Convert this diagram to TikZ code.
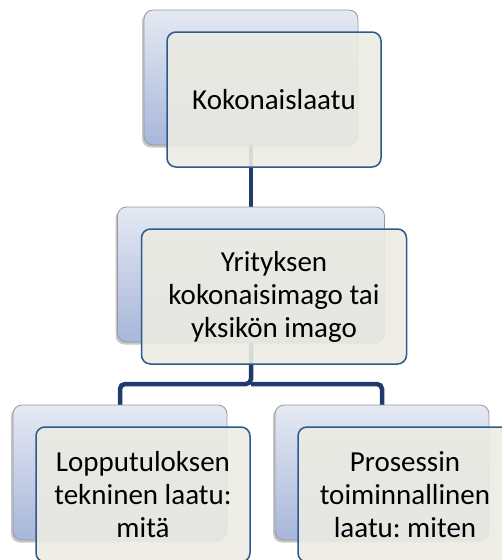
\documentclass[tikz,border=0pt]{standalone}
\usepackage{fontspec}
\setmainfont{Carlito}
\frenchspacing
\usetikzlibrary{shadows,backgrounds}
\definecolor{linkblue}{HTML}{1F3B6B}
\definecolor{frontedge}{HTML}{2B5A8C}
\definecolor{frontfill}{HTML}{ECEBE3}
\definecolor{backtop}{HTML}{E5E9F3}
\definecolor{backbot}{HTML}{A7B6DA}
\begin{document}
\begin{tikzpicture}[x=1pt, y=-1pt,
    backbox/.style={draw=gray!80, line width=0.8pt, rounded corners=9pt,
        top color=backtop, bottom color=backbot, minimum height=135,
        drop shadow={shadow xshift=-2pt, shadow yshift=-2.5pt, opacity=0.45}},
    frontbox/.style={draw=frontedge, line width=1.5pt, rounded corners=9pt,
        fill=frontfill, fill opacity=0.9, text opacity=1, align=center,
        minimum height=135, inner sep=1pt,
        font=\fontsize{29}{33}\selectfont, xshift=23pt, yshift=-22pt},
    link/.style={draw=linkblue, line width=4.5pt, rounded corners=5pt}]
    \useasboundingbox (0,0) rectangle (502,560);
    \clip (0,0) rectangle (502,560);
    % back boxes
    \node[backbox, minimum width=214] (topback) at (251,77.5) {};
    \node[backbox, minimum width=267] (midback) at (251,274.5) {};
    \node[backbox, minimum width=214] (leftback) at (120,472.5) {};
    \node[backbox, minimum width=214] (rightback) at (382,472.5) {};
    \coordinate (fork) at (251,384);
    % front boxes
    \node[frontbox, minimum width=214] (topfront) at (topback) {Kokonaislaatu};
    \node[frontbox, minimum width=265] (midfront) at (midback)
        {Yrityksen\\kokonaisimago tai\\yksikön imago};
    \node[frontbox, minimum width=214] (leftfront) at (leftback)
        {Lopputuloksen\\tekninen laatu:\\mitä};
    \node[frontbox, minimum width=214] (rightfront) at (rightback)
        {Prosessin\\toiminnallinen\\laatu: miten};
    % connectors
    \begin{scope}[on background layer]
    \draw[link] (topback.center) -- (midback.center);
    \draw[link] (midback.center) -- (fork) -| (leftback.center);
    \draw[link] (fork) -| (rightback.center);
    \end{scope}
\end{tikzpicture}
\end{document}
